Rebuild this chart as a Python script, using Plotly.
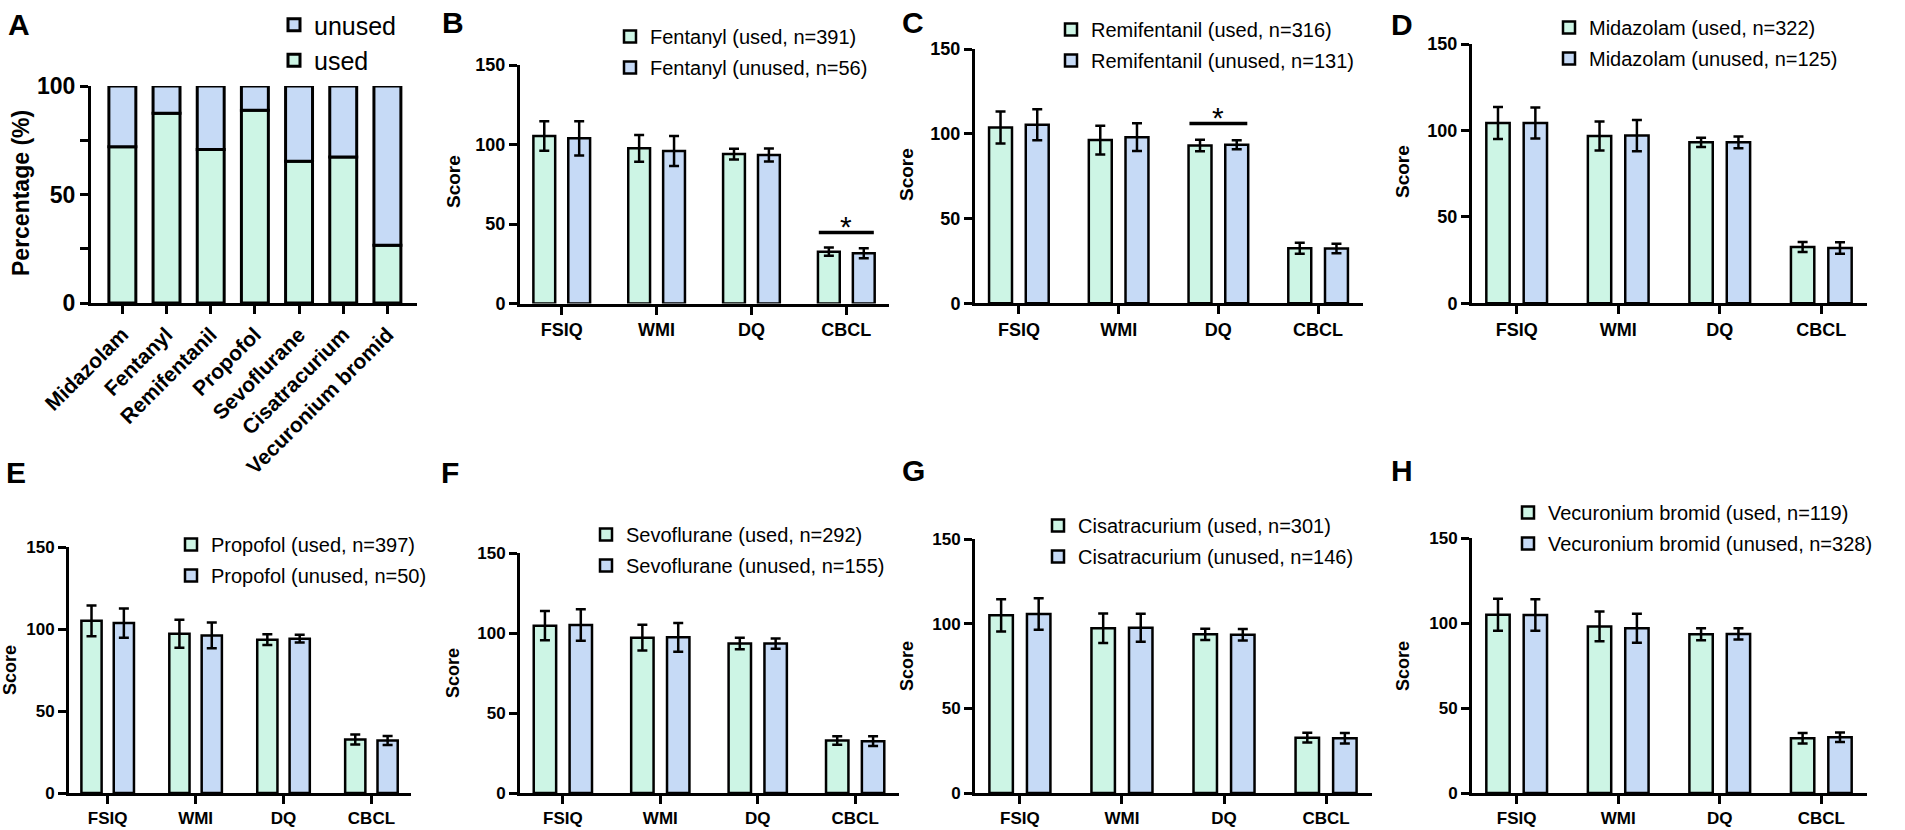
import plotly.graph_objects as go

# ---- data -------------------------------------------------------------
drugs = ["Midazolam", "Fentanyl", "Remifentanil", "Propofol",
         "Sevoflurane", "Cisatracurium", "Vecuronium bromid"]
pct_used = [72.0, 87.5, 70.7, 88.8, 65.3, 67.3, 26.6]
pct_unused = [28.0, 12.5, 29.3, 11.2, 34.7, 32.7, 73.4]

measures = ["FSIQ", "WMI", "DQ", "CBCL"]

fentanyl_n = [391, 56]
fentanyl_used = [105.3, 97.6, 94.0, 32.6]
fentanyl_used_sd = [9.3, 8.4, 3.4, 2.6]
fentanyl_unused = [103.9, 95.9, 93.4, 31.6]
fentanyl_unused_sd = [10.8, 9.4, 4.1, 3.2]

remifentanil_n = [316, 131]
remifentanil_used = [103.7, 96.3, 93.1, 32.5]
remifentanil_used_sd = [9.5, 8.5, 3.4, 3.2]
remifentanil_unused = [105.3, 98.0, 93.5, 32.3]
remifentanil_unused_sd = [9.1, 8.2, 2.7, 2.8]

midazolam_n = [322, 125]
midazolam_used = [104.3, 96.8, 93.1, 32.6]
midazolam_used_sd = [9.3, 8.4, 2.7, 2.9]
midazolam_unused = [104.3, 97.0, 93.1, 32.0]
midazolam_unused_sd = [8.9, 9.0, 3.4, 3.3]

propofol_n = [397, 50]
propofol_used = [105.0, 97.1, 93.5, 32.6]
propofol_used_sd = [9.4, 8.5, 3.3, 3.0]
propofol_unused = [103.6, 96.1, 94.1, 32.0]
propofol_unused_sd = [8.9, 7.8, 2.4, 2.8]

sevoflurane_n = [292, 155]
sevoflurane_used = [104.6, 97.1, 93.4, 32.8]
sevoflurane_used_sd = [9.2, 8.0, 3.6, 2.7]
sevoflurane_unused = [105.0, 97.3, 93.4, 32.4]
sevoflurane_unused_sd = [9.9, 9.0, 3.2, 3.0]

cisatracurium_n = [301, 146]
cisatracurium_used = [104.9, 97.3, 93.7, 32.7]
cisatracurium_used_sd = [9.5, 8.7, 3.3, 2.9]
cisatracurium_unused = [105.7, 97.6, 93.5, 32.4]
cisatracurium_unused_sd = [9.3, 8.3, 3.4, 3.1]

vecuronium_n = [119, 328]
vecuronium_used = [104.9, 98.0, 93.4, 32.2]
vecuronium_used_sd = [9.4, 8.8, 3.5, 3.1]
vecuronium_unused = [104.7, 96.9, 93.6, 32.8]
vecuronium_unused_sd = [9.3, 8.5, 3.3, 2.8]

# ---- layout helpers --------------------------------------------------
W, H = 1905, 830
FONT = "Liberation Sans, Arial, sans-serif"
USED = "#cdf5e5"
UNUSED = "#c6daf6"


def fx(px):
    return px / W


def fy(py):
    return 1 - py / H


# panel: letter, drug name, data, sig measure, axis box (x0, x1, y150, y0),
# legend (x, top), letter pos, score title pos, tick font size
panels = [
    ("B", "Fentanyl", fentanyl_n, fentanyl_used, fentanyl_used_sd, fentanyl_unused, fentanyl_unused_sd, "CBCL",
     (520, 889, 65, 303.5), (610, 17), (453, 23), (453, 182), 18),
    ("C", "Remifentanil", remifentanil_n, remifentanil_used, remifentanil_used_sd, remifentanil_unused,
     remifentanil_unused_sd, "DQ", (975, 1363, 49, 303.3), (1051, 10), (913, 22), (907, 175), 18),
    ("D", "Midazolam", midazolam_n, midazolam_used, midazolam_used_sd, midazolam_unused, midazolam_unused_sd, None,
     (1472, 1867, 44, 303.3), (1549, 8), (1402, 24), (1403, 172), 18),
    ("E", "Propofol", propofol_n, propofol_used, propofol_used_sd, propofol_unused, propofol_unused_sd, None,
     (69, 411, 547, 793), (171, 525), (16, 472), (10, 670), 17),
    ("F", "Sevoflurane", sevoflurane_n, sevoflurane_used, sevoflurane_used_sd, sevoflurane_unused,
     sevoflurane_unused_sd, None, (520, 899, 553, 793), (586, 515), (450, 472), (453, 673), 17),
    ("G", "Cisatracurium", cisatracurium_n, cisatracurium_used, cisatracurium_used_sd, cisatracurium_unused,
     cisatracurium_unused_sd, None, (975, 1372, 539, 793), (1038, 506), (913, 470), (907, 666), 17),
    ("H", "Vecuronium bromid", vecuronium_n, vecuronium_used, vecuronium_used_sd, vecuronium_unused,
     vecuronium_unused_sd, None, (1472, 1867, 538, 793), (1508, 493), (1402, 470), (1403, 666), 17),
]

line_style = dict(showline=True, linewidth=3, linecolor="black", ticks="outside", ticklen=8,
                  tickwidth=3, tickcolor="black", showgrid=False, zeroline=False, automargin=False)


def text_at(text, px, py, size, angle=0):
    return dict(text=text, x=fx(px), y=fy(py), xref="paper", yref="paper", xanchor="center",
                yanchor="middle", textangle=angle, showarrow=False,
                font=dict(family=FONT, size=size, color="black"))


fig = go.Figure()
annotations = []
shapes = []
layout = {}

# ---- panel A: stacked percentage --------------------------------------
fig.add_bar(x=drugs, y=pct_used, name="used", width=0.61, offset=-0.305,
            marker=dict(color=USED, line=dict(color="black", width=3)),
            xaxis="x", yaxis="y", legend="legend", legendgroup="a_used")
fig.add_bar(x=drugs, y=pct_unused, base=pct_used, name="unused", width=0.61, offset=-0.305,
            marker=dict(color=UNUSED, line=dict(color="black", width=3)),
            xaxis="x", yaxis="y", legend="legend", legendgroup="a_unused")

layout["xaxis"] = dict(domain=[fx(91), fx(417)], anchor="y", type="category", range=[-0.71, 6.67],
                       tickangle=-45, tickfont=dict(family=FONT, size=21, color="black", weight="bold"),
                       **line_style)
layout["yaxis"] = dict(domain=[fy(303), fy(86)], anchor="x", range=[0, 100], tickvals=[0, 50, 100],
                       tickfont=dict(family=FONT, size=23, color="black", weight="bold"),
                       minor=dict(dtick=25, tick0=0, ticks="outside", ticklen=8, tickwidth=3, tickcolor="black"),
                       **line_style)
layout["legend"] = dict(x=fx(274), y=fy(2), xanchor="left", yanchor="top", traceorder="reversed",
                        font=dict(family=FONT, size=25, color="black"), tracegroupgap=5,
                        bgcolor="rgba(0,0,0,0)")
annotations.append(text_at("<b>A</b>", 19, 24, 30))
annotations.append(text_at("<b>Percentage (%)</b>", 21, 193, 23, -90))

# ---- panels B-H: grouped score bars ------------------------------------
for i, p in enumerate(panels, start=2):
    (letter, drug, n, used, used_sd, unused, unused_sd, sig,
     box, leg, let_pos, score_pos, tsize) = p
    x0, x1, ytop, ybot = box
    xa, ya, lg = f"x{i}", f"y{i}", f"legend{i}"
    fig.add_bar(x=measures, y=used, name=f"{drug} (used, n={n[0]})", width=0.23, offset=-0.299,
                marker=dict(color=USED, line=dict(color="black", width=2.5)),
                error_y=dict(type="data", array=used_sd, color="black", thickness=2.5, width=5),
                xaxis=xa, yaxis=ya, legend=lg, legendgroup=f"{letter}_used")
    fig.add_bar(x=measures, y=unused, name=f"{drug} (unused, n={n[1]})", width=0.23, offset=0.069,
                marker=dict(color=UNUSED, line=dict(color="black", width=2.5)),
                error_y=dict(type="data", array=unused_sd, color="black", thickness=2.5, width=5),
                xaxis=xa, yaxis=ya, legend=lg, legendgroup=f"{letter}_unused")

    layout[f"xaxis{i}"] = dict(domain=[fx(x0), fx(x1)], anchor=ya, type="category", range=[-0.44, 3.45],
                               tickfont=dict(family=FONT, size=tsize, color="black", weight="bold"),
                               **line_style)
    layout[f"yaxis{i}"] = dict(domain=[fy(ybot), fy(ytop)], anchor=xa, range=[0, 150],
                               tickvals=[0, 50, 100, 150],
                               tickfont=dict(family=FONT, size=tsize, color="black", weight="bold"),
                               **line_style)
    layout[lg] = dict(x=fx(leg[0]), y=fy(leg[1]), xanchor="left", yanchor="top",
                      font=dict(family=FONT, size=20, color="black"), tracegroupgap=2,
                      bgcolor="rgba(0,0,0,0)")
    annotations.append(text_at(f"<b>{letter}</b>", let_pos[0], let_pos[1], 30))
    annotations.append(text_at("<b>Score</b>", score_pos[0], score_pos[1], tsize + 1, -90))

    if sig is not None:
        k = measures.index(sig)
        top = max(used[k] + used_sd[k], unused[k] + unused_sd[k]) + 9.5
        shapes.append(dict(type="line", xref=xa, yref=ya, x0=k - 0.29, x1=k + 0.29, y0=top, y1=top,
                           line=dict(color="black", width=3.5)))
        annotations.append(dict(text="*", xref=xa, yref=ya, x=k, y=top + 3.5, xanchor="center",
                                yanchor="middle", showarrow=False,
                                font=dict(family=FONT, size=30, color="black")))

fig.update_layout(**layout)
fig.update_layout(template="none", width=W, height=H, margin=dict(l=0, r=0, t=0, b=0, autoexpand=False),
                  paper_bgcolor="white", plot_bgcolor="white",
                  font=dict(family=FONT, color="black"),
                  annotations=annotations, shapes=shapes, showlegend=True)

fig.write_html("out.html", config={"displayModeBar": False},
               post_script="document.body.style.margin='0px';document.body.style.overflow='hidden';")
